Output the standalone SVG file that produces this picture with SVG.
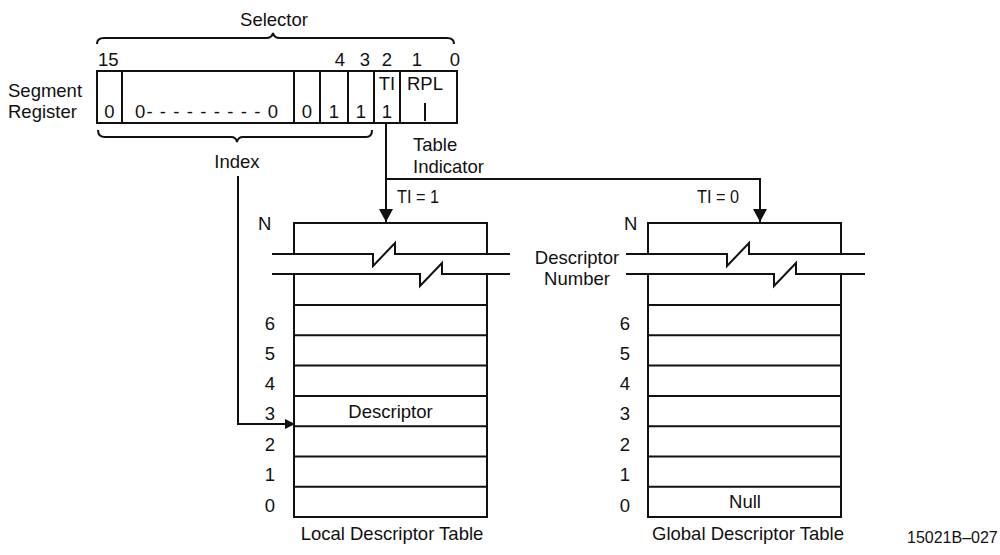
<svg xmlns="http://www.w3.org/2000/svg" width="1000" height="555" viewBox="0 0 1000 555">
<style>
text{font-family:"Liberation Sans",Arial,sans-serif;font-size:18.5px;fill:#111}
.m{text-anchor:middle}
.ln{fill:none;stroke:#111;stroke-width:2}
.thin{fill:none;stroke:#111;stroke-width:1.8}
</style>
<defs>
<marker id="ah" markerUnits="userSpaceOnUse" markerWidth="14" markerHeight="14" refX="13" refY="7" orient="auto">
<path d="M0,0 L13,7 L0,14 Z" fill="#111"/>
</marker>
<marker id="ahs" markerUnits="userSpaceOnUse" markerWidth="11" markerHeight="11" refX="10" refY="5" orient="auto">
<path d="M0,0 L10,5 L0,10 Z" fill="#111"/>
</marker>
</defs>
<rect width="1000" height="555" fill="#fff"/>

<g id="selector">
<text class="m" x="274" y="26">Selector</text>
<path class="ln" d="M97,44 Q97,38 104,38 L266,38 Q272,38 273,33 Q274,38 280,38 L447,38 Q454,38 454,44"/>
<text x="98" y="66">15</text>
<text class="m" x="340" y="66">4</text>
<text class="m" x="365" y="66">3</text>
<text class="m" x="387" y="66">2</text>
<text class="m" x="417" y="66">1</text>
<text class="m" x="455" y="66">0</text>
</g>

<g id="segment-register">
<text x="8" y="97">Segment</text>
<text x="8" y="118">Register</text>
<rect class="ln" x="97" y="71" width="360" height="52"/>
<path class="ln" d="M122,71 V123 M294,71 V123 M320,71 V123 M348,71 V123 M374,71 V123 M400,71 V123"/>
<text class="m" x="109.5" y="118">0</text>
<text x="135" y="118" textLength="143" lengthAdjust="spacing">0- - - - - - - - - 0</text>
<text class="m" x="307" y="118">0</text>
<text class="m" x="334" y="118">1</text>
<text class="m" x="361" y="118">1</text>
<text class="m" x="387" y="90">TI</text>
<text class="m" x="387" y="118">1</text>
<text class="m" x="425" y="90">RPL</text>
<path class="ln" d="M425,103 V121"/>
</g>

<g id="index">
<path class="ln" d="M98,130 Q98,137 105,137 L231,137 Q236,137 237,142 Q238,137 243,137 L366,137 Q372,137 372,130"/>
<text class="m" x="237" y="168">Index</text>
</g>

<g id="table-indicator">
<text x="413" y="151">Table</text>
<text x="413" y="173">Indicator</text>
<text x="397" y="203" textLength="42" lengthAdjust="spacingAndGlyphs">TI = 1</text>
<text x="697" y="203" textLength="42" lengthAdjust="spacingAndGlyphs">TI = 0</text>
</g>

<g id="connectors">
<path class="ln" d="M386,123 V222" marker-end="url(#ah)"/>
<path class="ln" d="M386,179 H760 V222" marker-end="url(#ah)"/>
<path class="ln" d="M238,176 V424 H295" marker-end="url(#ahs)"/>
</g>

<g id="ldt">
<text x="258" y="230">N</text>
<path class="ln" d="M294,254 V223 H487 V254"/>
<path class="ln" d="M272,254 H373 V266 L395,243 V254 H510"/>
<path class="ln" d="M272,274 H420 V286 L442,263 V274 H510"/>
<path class="ln" d="M294,274 V517 H487 V274"/>
<path class="ln" d="M294,305 H487 M294,335.3 H487 M294,365.6 H487 M294,395.9 H487 M294,426.2 H487 M294,456.5 H487 M294,486.8 H487"/>
<text class="m" x="270" y="330">6</text>
<text class="m" x="270" y="360">5</text>
<text class="m" x="270" y="390">4</text>
<text class="m" x="270" y="420">3</text>
<text class="m" x="270" y="451">2</text>
<text class="m" x="270" y="481">1</text>
<text class="m" x="270" y="512">0</text>
<text class="m" x="390.5" y="418">Descriptor</text>
<text class="m" x="392" y="540">Local Descriptor Table</text>
</g>

<g id="descriptor-number">
<text class="m" x="577" y="264">Descriptor</text>
<text class="m" x="577" y="285">Number</text>
</g>

<g id="gdt">
<text x="624" y="230">N</text>
<path class="ln" d="M648,254 V223 H841 V254"/>
<path class="ln" d="M626,254 H727 V266 L749,243 V254 H865"/>
<path class="ln" d="M626,274 H774 V286 L796,263 V274 H865"/>
<path class="ln" d="M648,274 V517 H841 V274"/>
<path class="ln" d="M648,305 H841 M648,335.3 H841 M648,365.6 H841 M648,395.9 H841 M648,426.2 H841 M648,456.5 H841 M648,486.8 H841"/>
<text class="m" x="625" y="330">6</text>
<text class="m" x="625" y="360">5</text>
<text class="m" x="625" y="390">4</text>
<text class="m" x="625" y="420">3</text>
<text class="m" x="625" y="451">2</text>
<text class="m" x="625" y="481">1</text>
<text class="m" x="625" y="512">0</text>
<text class="m" x="745" y="508">Null</text>
<text class="m" x="748" y="540">Global Descriptor Table</text>
</g>

<text x="907" y="543" style="font-size:16px">15021B–027</text>
</svg>
